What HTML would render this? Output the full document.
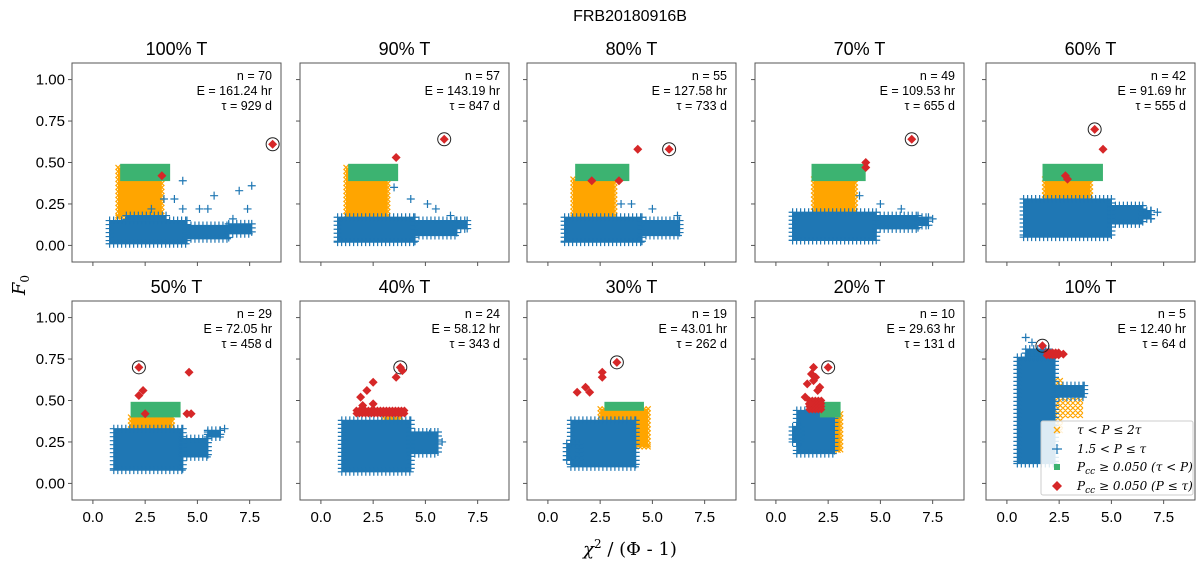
<!DOCTYPE html>
<html><head><meta charset="utf-8">
<style>
body{margin:0;background:#fff;}
svg{display:block;font-family:"Liberation Sans","DejaVu Sans",sans-serif;}
</style></head>
<body>
<svg id="c" width="1200" height="575" viewBox="0 0 1200 575">
<text x="630" y="21" font-size="16" text-anchor="middle">FRB20180916B</text>
<text x="630" y="555" font-size="18" text-anchor="middle" font-family="DejaVu Serif, serif"><tspan font-style="italic">χ</tspan><tspan font-size="12" dy="-7">2</tspan><tspan dy="7"> / (Φ - 1)</tspan></text>
<text transform="translate(25,285) rotate(-90)" font-size="18" text-anchor="middle" font-family="DejaVu Serif, serif" font-style="italic">F<tspan font-size="12" dy="4" font-style="normal">0</tspan></text>
</svg>
<script>
// ---- data ----
const titles=["100% T","90% T","80% T","70% T","60% T","50% T","40% T","30% T","20% T","10% T"];
const nVals=[70,57,55,49,42,29,24,19,10,5];
const eVals=["161.24","143.19","127.58","109.53","91.69","72.05","58.12","43.01","29.63","12.40"];
const tauVals=[929,847,733,655,555,458,343,262,131,64];
const xTicks=[0,2.5,5,7.5];
const xTickLabels=["0.0","2.5","5.0","7.5"];
const yTicks=[0,0.25,0.5,0.75,1.0];
const yTickLabels=["0.00","0.25","0.50","0.75","1.00"];
// cloud regions [x0,x1,y0,y1] per panel
const orangeRegions=[
 [[1.2,3.3,0.17,0.47]],
 [[1.2,3.2,0.15,0.47]],
 [[1.2,3.2,0.17,0.40]],
 [[1.8,3.8,0.17,0.40]],
 [[1.8,4.0,0.20,0.40]],
 [[1.8,3.8,0.30,0.40]],
 [[3.0,3.8,0.25,0.40]],
 [[2.5,4.8,0.22,0.45]],
 [[2.4,3.1,0.20,0.42]],
 [[1.6,2.6,0.30,0.62],[2.8,3.7,0.40,0.50]]
];
const blueRegions=[
 [[0.8,4.5,0.01,0.15],[1.6,3.5,0.15,0.18],[4.5,6.5,0.04,0.12],[6.5,7.6,0.07,0.13]],
 [[0.8,4.5,0.02,0.17],[4.5,6.5,0.06,0.15],[6.5,7.0,0.10,0.15]],
 [[0.8,4.5,0.02,0.17],[4.5,6.3,0.06,0.15]],
 [[0.8,4.8,0.03,0.20],[4.8,6.8,0.10,0.18],[6.8,7.3,0.12,0.17]],
 [[0.8,5.0,0.05,0.28],[5.0,6.5,0.13,0.24],[6.5,6.9,0.16,0.21]],
 [[1.0,4.3,0.08,0.33],[4.3,5.5,0.16,0.27],[5.5,6.1,0.28,0.32]],
 [[1.0,4.3,0.07,0.38],[4.3,5.6,0.18,0.31]],
 [[1.1,4.2,0.10,0.38],[0.9,1.5,0.14,0.24]],
 [[1.0,2.8,0.18,0.44],[0.8,1.2,0.25,0.34]],
 [[0.5,2.3,0.12,0.76],[2.3,3.7,0.52,0.59],[0.9,2.0,0.76,0.81]]
];
// isolated outlier crosses
const outX=[[2.8,3.4,3.9,4.3,4.3,5.1,5.5,5.8,6.7,7.0,7.6,7.4],[3.5,4.3,5.1,5.5,6.2],[3.5,4.0,5.0,6.2],[4.0,5.0,6.0,7.5],[6.5,7.2],[5.5,6.3],[5.2,5.8],[],[],[0.9,1.2]];
const outY=[[0.22,0.28,0.28,0.39,0.22,0.22,0.22,0.30,0.16,0.33,0.36,0.22],[0.35,0.28,0.25,0.22,0.18],[0.25,0.25,0.22,0.18],[0.30,0.25,0.22,0.16],[0.22,0.20],[0.31,0.33],[0.30,0.25],[],[],[0.88,0.85]];
const greenRegions=[
 [[1.4,3.6,0.40,0.48]],
 [[1.4,3.6,0.40,0.48]],
 [[1.4,3.8,0.40,0.48]],
 [[1.8,4.2,0.40,0.48]],
 [[1.8,4.5,0.40,0.48]],
 [[1.9,4.1,0.41,0.48]],
 [],
 [[2.8,4.5,0.45,0.48]],
 [[2.2,3.0,0.41,0.48]],
 []
];
const redBandRegions=[[],[],[],[],[],[],[[1.7,4.0,0.41,0.44]],[],[[1.6,2.2,0.44,0.50]],[[1.9,2.5,0.77,0.79]]];
const redX=[[3.3,8.6],[3.6,5.9],[2.1,3.4,4.3,5.8],[4.3,4.3,6.5],[2.8,2.9,4.2,4.6],
 [2.2,2.2,2.4,2.5,4.6,4.5,4.7],[1.9,2.2,2.5,3.6,3.8,3.9,2.0,2.5],[1.4,1.8,2.0,2.6,2.6,3.3],
 [1.4,1.5,1.7,1.8,1.9,2.0,1.6,1.8,2.1,2.5],[1.7,2.0,2.7]];
const redY=[[0.42,0.61],[0.53,0.64],[0.39,0.39,0.58,0.58],[0.47,0.50,0.64],[0.42,0.40,0.70,0.58],
 [0.70,0.53,0.56,0.42,0.67,0.42,0.42],[0.52,0.56,0.61,0.64,0.70,0.68,0.47,0.48],[0.55,0.58,0.55,0.64,0.67,0.73],
 [0.52,0.60,0.66,0.70,0.64,0.56,0.48,0.62,0.58,0.70],[0.83,0.78,0.78]];
const bestIdx=[1,1,3,2,2,0,4,5,9,0];
// ---- layout ----
const colLeft=[72,300,527,755,986], rowTop=[63,301], W=209, H=199;
const svg=document.getElementById('c');
const NS='http://www.w3.org/2000/svg';
function mk(t,a,p){const e=document.createElementNS(NS,t);for(const k in a)e.setAttribute(k,a[k]);(p||svg).appendChild(e);return e;}
function cloud(pg,sx,sy,reg,color,kind,name,sparse){
 const [x0,x1,y0,y1]=reg;const X0=sx(x0),X1=sx(x1),Y0=sy(y1),Y1=sy(y0);
 if(!sparse){const rc=mk('rect',{x:X0,y:Y0,width:X1-X0,height:Y1-Y0,fill:color},pg);
  
  }
 let d='';const st=sparse?5:4;
 const add=(X,Y)=>{d+=kind==='+'?`M${X-4},${Y}L${X+4},${Y}M${X},${Y-4}L${X},${Y+4}`:`M${X-2.5},${Y-2.5}L${X+2.5},${Y+2.5}M${X-2.5},${Y+2.5}L${X+2.5},${Y-2.5}`;};
 if(sparse){for(let X=X0;X<=X1;X+=st)for(let Y=Y0;Y<=Y1;Y+=st)add(X,Y);}
 else{for(let X=X0;X<=X1;X+=st){add(X,Y0);add(X,Y1);}for(let Y=Y0;Y<=Y1;Y+=st){add(X0,Y);add(X1,Y);}}
 const m=mk('path',{d:d,stroke:color,'stroke-width':1.2,fill:'none'},pg);
 
 
}
for(let p=0;p<10;p++){
 const r=Math.floor(p/5),c=p%5,L=colLeft[c],T=rowTop[r];
 const sx=x=>L+(x+1)/10*W, sy=y=>T+(1.1-y)/1.2*H;
 const g=mk('g',{});
 
 
 const t=mk('text',{x:L+W/2,y:T-8,'font-size':18,'text-anchor':'middle'},g);t.textContent=titles[p];
 
 
 const clip='cl'+p;const cp=mk('clipPath',{id:clip},g);mk('rect',{x:L,y:T,width:W,height:H},cp);
 const pg=mk('g',{'clip-path':'url(#'+clip+')'},g);
 orangeRegions[p].forEach(reg=>cloud(pg,sx,sy,reg,'#ffa500','x','orange',p===9));
 blueRegions[p].forEach(reg=>cloud(pg,sx,sy,reg,'#1f77b4','+','blue',false));
 outX[p].forEach((x,i)=>{const X=sx(x),Y=sy(outY[p][i]);
  const m=mk('path',{d:`M${X-4},${Y}L${X+4},${Y}M${X},${Y-4}L${X},${Y+4}`,stroke:'#1f77b4','stroke-width':1.2},pg);
  
  });
 greenRegions[p].forEach(([x0,x1,y0,y1])=>{
  const m=mk('rect',{x:sx(x0)-2,y:sy(y1)-2,width:sx(x1)-sx(x0)+4,height:sy(y0)-sy(y1)+4,fill:'#3cb371'},pg);
  
  });
 redBandRegions[p].forEach(([x0,x1,y0,y1])=>{
  for(let X=sx(x0);X<=sx(x1);X+=3)for(let Y=sy(y1);Y<=sy(y0);Y+=3){
   const m=mk('path',{d:`M${X},${Y-4}L${X+4},${Y}L${X},${Y+4}L${X-4},${Y}Z`,fill:'#d62728'},pg);
   
   }});
 redX[p].forEach((x,i)=>{const X=sx(x),Y=sy(redY[p][i]);
  const m=mk('path',{d:`M${X},${Y-4.5}L${X+4.5},${Y}L${X},${Y+4.5}L${X-4.5},${Y}Z`,fill:'#d62728'},pg);
  
  
  if(i===bestIdx[p]){const ci=mk('circle',{cx:X,cy:Y,r:6.5,fill:'none',stroke:'#222','stroke-width':1},pg);
   
   }});
 mk('rect',{x:L,y:T,width:W,height:H,fill:'none',stroke:'#555','stroke-width':1},g);
 xTicks.forEach((v,i)=>{const X=sx(v);mk('line',{x1:X,x2:X,y1:T+H,y2:T+H+4,stroke:'#555'},g);
  if(r===1){const tl=mk('text',{x:X,y:T+H+22,'font-size':15,'text-anchor':'middle'},g);tl.textContent=xTickLabels[i];
   
   }});
 yTicks.forEach((v,i)=>{const Y=sy(v);mk('line',{x1:L-4,x2:L,y1:Y,y2:Y,stroke:'#555'},g);
  if(c===0){const tl=mk('text',{x:L-7,y:Y+5,'font-size':15,'text-anchor':'end'},g);tl.textContent=yTickLabels[i];
   
   }});
 const lines=['n = '+nVals[p],'E = '+eVals[p]+' hr','τ = '+tauVals[p]+' d'];
 lines.forEach((s,i)=>{const a=mk('text',{x:L+W-9,y:T+17+i*15,'font-size':12.5,'text-anchor':'end'},g);a.textContent=s;
  
  });
}
const lg=mk('g',{});


mk('rect',{x:1041,y:421,width:152,height:74,fill:'#fff','fill-opacity':0.85,stroke:'#ccc',rx:2},lg);
const legLabels=['τ < P ≤ 2τ','1.5 < P ≤ τ','P_cc ≥ 0.050 (τ < P)','P_cc ≥ 0.050 (P ≤ τ)'];
const ly=[430,449,467,486];
mk('path',{d:'M1054,427L1060,433M1054,433L1060,427',stroke:'#ffa500','stroke-width':1.3},lg);
mk('path',{d:'M1052,449L1062,449M1057,444L1057,454',stroke:'#1f77b4','stroke-width':1.2},lg);
mk('rect',{x:1054,y:464,width:6,height:6,fill:'#3cb371'},lg);
mk('path',{d:'M1057,481L1062,486L1057,491L1052,486Z',fill:'#d62728'},lg);
legLabels.forEach((s,i)=>{const t=mk('text',{x:1077,y:ly[i]+4,'font-size':12,'font-family':'DejaVu Serif, serif','font-style':'italic'},lg);
 if(s.startsWith('P_cc')){t.innerHTML='P<tspan font-size="9" dy="3">cc</tspan><tspan dy="-3">'+s.slice(4)+'</tspan>';}else t.textContent=s;
 
 });
</script>
</body></html>
